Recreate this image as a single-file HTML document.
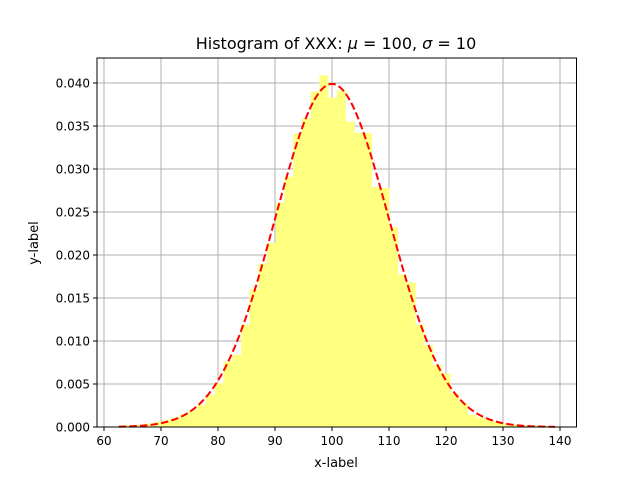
<!DOCTYPE html>
<html><head><meta charset="utf-8"><style>
body{margin:0;background:#fff;}
svg{display:block;font-family:"DejaVu Sans","Liberation Sans",sans-serif;}
</style></head><body>
<svg id="chart" width="640" height="480">
<rect x="0" y="0" width="640" height="480" fill="#fff"/>
<g id="grid"></g>
<g id="bars"></g>
<path id="pdf" fill="none" stroke="#ff0000" stroke-width="2" stroke-dasharray="7.4,3.2"/>
<rect x="97" y="58" width="479.5" height="369" fill="none" stroke="#000" stroke-width="1"/>
<g id="ticks"></g>
<text x="336" y="49" text-anchor="middle" font-size="16">Histogram of XXX: <tspan font-style="italic">μ</tspan> = 100, <tspan font-style="italic">σ</tspan> = 10</text>
<text x="336" y="467" text-anchor="middle" font-size="13">x-label</text>
<text x="0" y="0" transform="translate(38,243) rotate(-90)" text-anchor="middle" font-size="13">y-label</text>
</svg>
<script>
const binStart = 62.6;
const binWidth = 1.53;
const binValues = [0.0002,0.0002,0.0003,0.0004,0.0006,0.0008,0.0011,0.0015,0.0020,0.0026,0.0037,0.0051,0.0076,0.0084,0.0119,0.0160,0.0190,0.0214,0.0261,0.0291,0.0341,0.0359,0.0390,0.0409,0.0383,0.0391,0.0355,0.0342,0.0342,0.0279,0.0278,0.0232,0.0177,0.0168,0.0119,0.0095,0.0072,0.0062,0.0039,0.0028,0.0014,0.0011,0.0008,0.0006,0.0004,0.0003,0.0002,0.0002,0.0001,0.0001];
const mu = 100;
const sigma = 10;
const xTicks = [60,70,80,90,100,110,120,130,140];
const yTicks = [0,0.005,0.010,0.015,0.020,0.025,0.030,0.035,0.040];
const yTickLabels = ["0.000","0.005","0.010","0.015","0.020","0.025","0.030","0.035","0.040"];
const NS="http://www.w3.org/2000/svg";
const X=v=>104+(v-60)*5.7;
const Y=v=>427-v*8600;
const grid=document.getElementById('grid'),bars=document.getElementById('bars'),ticks=document.getElementById('ticks');
function mk(tag,attrs,parent){const e=document.createElementNS(NS,tag);for(const k in attrs)e.setAttribute(k,attrs[k]);parent.appendChild(e);return e;}
xTicks.forEach(t=>{
  const l=mk('line',{x1:X(t),x2:X(t),y1:58,y2:427,stroke:'#b0b0b0','stroke-width':1},grid);
  
  
  const tk=mk('line',{x1:X(t),x2:X(t),y1:427,y2:431,stroke:'#000','stroke-width':1},ticks);
  
  
  const tx=mk('text',{x:X(t),y:445,'text-anchor':'middle','font-size':12},ticks);
  tx.textContent=t;
  
  
});
yTicks.forEach((t,i)=>{
  const l=mk('line',{x1:97,x2:576.5,y1:Y(t),y2:Y(t),stroke:'#b0b0b0','stroke-width':1},grid);
  
  
  const tk=mk('line',{x1:93,x2:97,y1:Y(t),y2:Y(t),stroke:'#000','stroke-width':1},ticks);
  
  
  const tx=mk('text',{x:90,y:Y(t)+4.5,'text-anchor':'end','font-size':12},ticks);
  tx.textContent=yTickLabels[i];
  
  
});
binValues.forEach((v,i)=>{
  const x0=X(binStart+i*binWidth),x1=X(binStart+(i+1)*binWidth);
  const r=mk('rect',{x:x0,y:Y(v),width:x1-x0+0.3,height:427-Y(v),fill:'#ffff80'},bars);
  
  
});
let d='';
const xEnd=binStart+binValues.length*binWidth;
for(let k=0;k<=200;k++){
  const x=binStart+(xEnd-binStart)*k/200;
  const p=Math.exp(-0.5*((x-mu)/sigma)**2)/(sigma*Math.sqrt(2*Math.PI));
  d+=(k?'L':'M')+X(x).toFixed(2)+','+Y(p).toFixed(2);
}
document.getElementById('pdf').setAttribute('d',d);
</script>
</body></html>
